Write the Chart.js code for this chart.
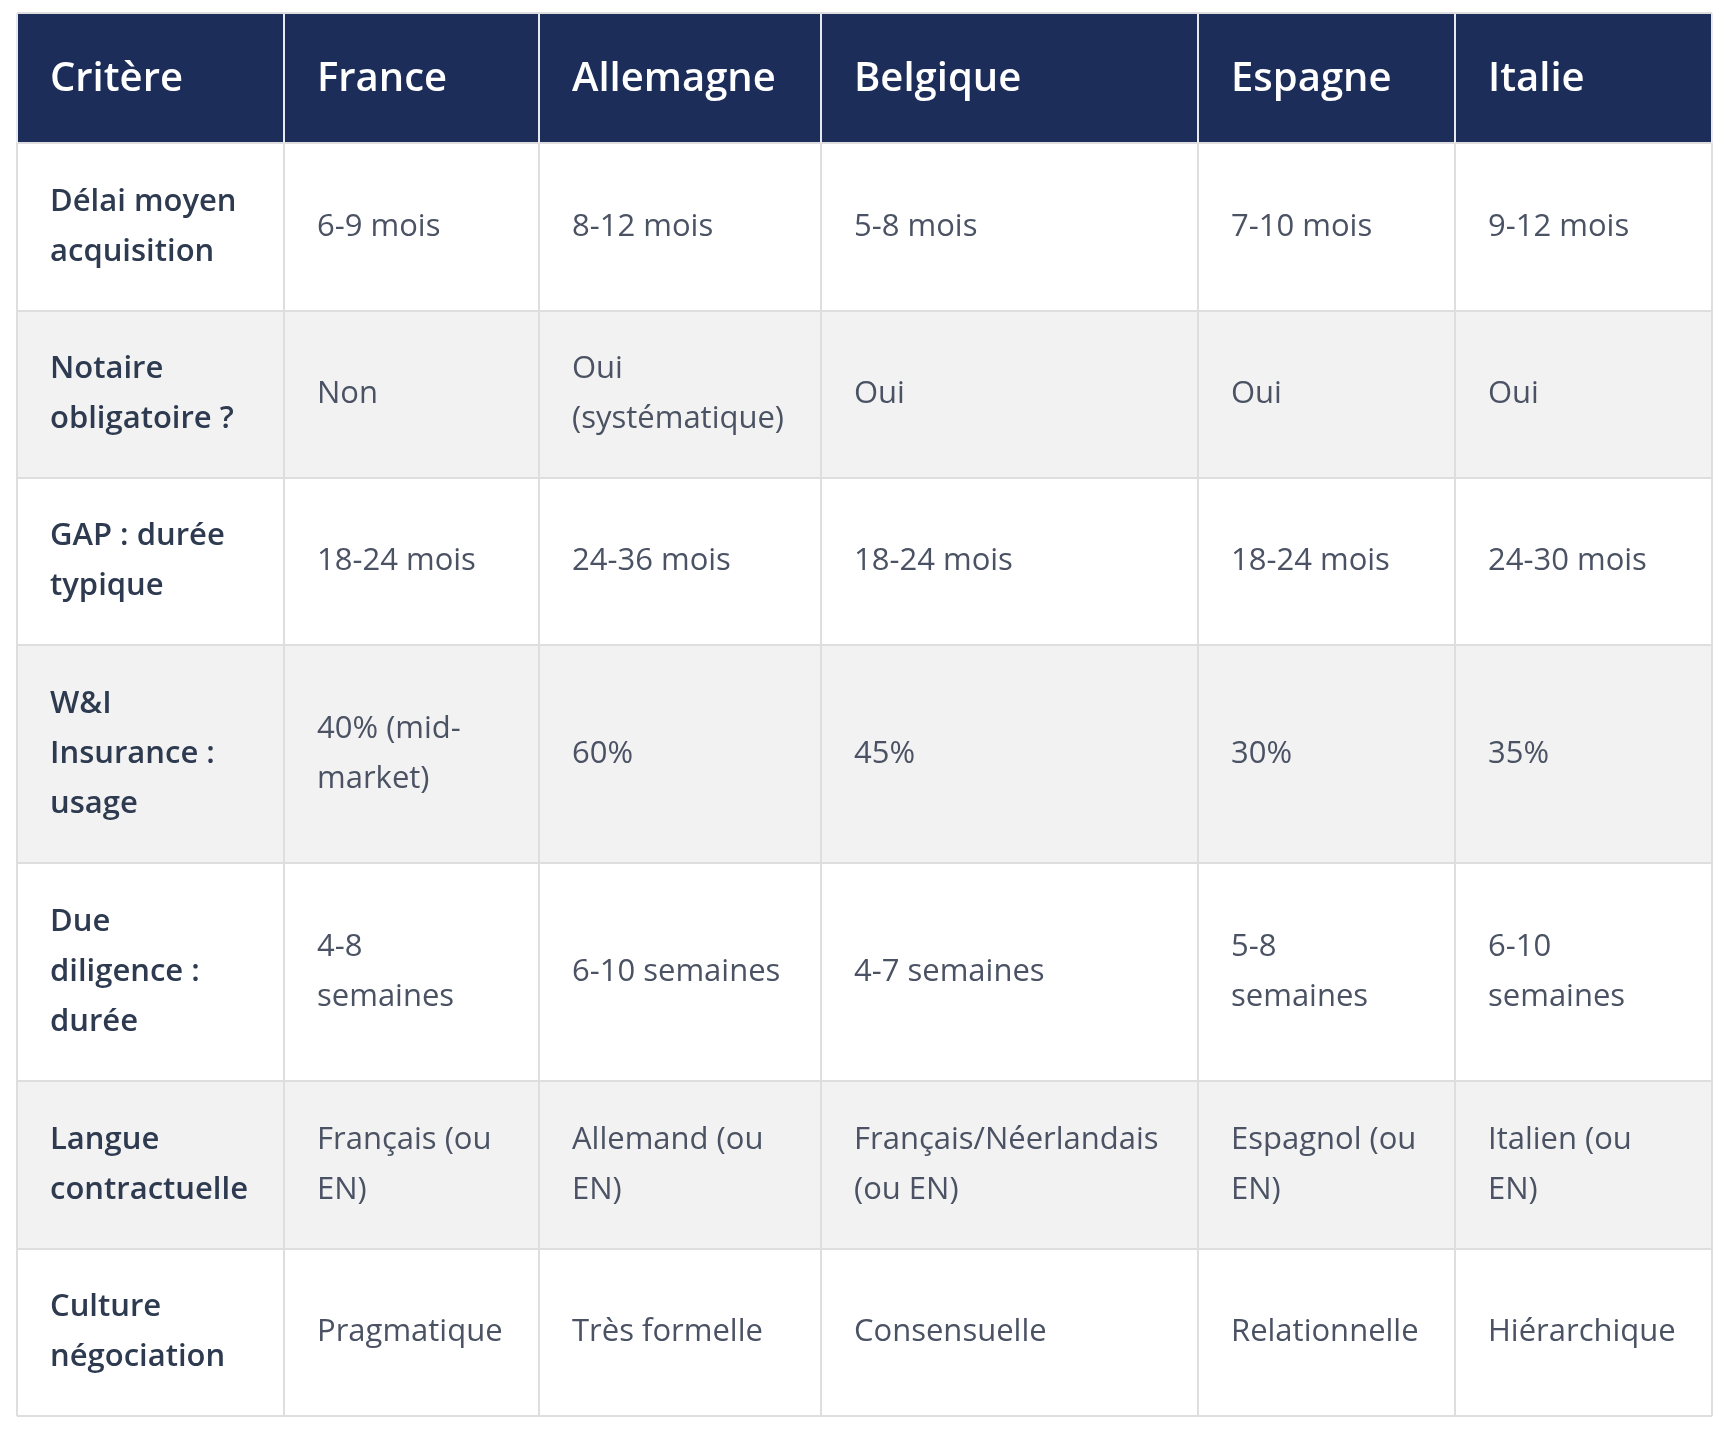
<!DOCTYPE html>
<html>
<head>
<meta charset="utf-8">
<script src="https://cdn.jsdelivr.net/npm/chart.js@4.4.0/dist/chart.umd.min.js"></script>
<style>
  body { margin: 0; background: #fff; }
</style>
</head>
<body>
<canvas id="table" width="1730" height="1432"></canvas>
<script>
// Table content
const headers = ['Critère', 'France', 'Allemagne', 'Belgique', 'Espagne', 'Italie'];
const criteria = ['Délai moyen\nacquisition', 'Notaire\nobligatoire ?', 'GAP : durée\ntypique', 'W&I\nInsurance :\nusage', 'Due\ndiligence :\ndurée', 'Langue\ncontractuelle', 'Culture\nnégociation'];
const france = ['6-9 mois', 'Non', '18-24 mois', '40% (mid-\nmarket)', '4-8\nsemaines', 'Français (ou\nEN)', 'Pragmatique'];
const allemagne = ['8-12 mois', 'Oui\n(systématique)', '24-36 mois', '60%', '6-10 semaines', 'Allemand (ou\nEN)', 'Très formelle'];
const belgique = ['5-8 mois', 'Oui', '18-24 mois', '45%', '4-7 semaines', 'Français/Néerlandais\n(ou EN)', 'Consensuelle'];
const espagne = ['7-10 mois', 'Oui', '18-24 mois', '30%', '5-8\nsemaines', 'Espagnol (ou\nEN)', 'Relationnelle'];
const italie = ['9-12 mois', 'Oui', '24-30 mois', '35%', '6-10\nsemaines', 'Italien (ou\nEN)', 'Hiérarchique'];

const columns = [criteria, france, allemagne, belgique, espagne, italie];

// Layout (px)
const colWidths = [267, 255, 282, 377, 257, 257];
const headerHeight = 130;
const rowHeights = [168, 167, 167, 218, 218, 168, 167];

const colEdges = [0];
colWidths.forEach(w => colEdges.push(colEdges[colEdges.length - 1] + w));
const rowEdges = [0, headerHeight];
rowHeights.forEach(h => rowEdges.push(rowEdges[rowEdges.length - 1] + h));

const tablePlugin = {
  id: 'tablePlugin',
  afterDraw(chart) {
    const { ctx, scales: { x, y } } = chart;
    const px = v => x.getPixelForValue(v);
    const py = v => y.getPixelForValue(v);
    ctx.save();

    // backgrounds
    ctx.fillStyle = '#1b2d58';
    ctx.fillRect(px(0), py(0), px(colEdges[6]) - px(0), py(headerHeight) - py(0));
    for (let r = 0; r < rowHeights.length; r++) {
      ctx.fillStyle = r % 2 === 1 ? '#f2f2f2' : '#ffffff';
      ctx.fillRect(px(0), py(rowEdges[r + 1]), px(colEdges[6]) - px(0), py(rowEdges[r + 2]) - py(rowEdges[r + 1]));
    }

    // grid lines
    ctx.lineWidth = 2;
    for (let r = 1; r < rowEdges.length; r++) {
      ctx.strokeStyle = '#dedede';
      ctx.beginPath();
      ctx.moveTo(px(0), py(rowEdges[r]));
      ctx.lineTo(px(colEdges[6]), py(rowEdges[r]));
      ctx.stroke();
    }
    colEdges.forEach(c => {
      ctx.strokeStyle = '#dedede';
      ctx.beginPath();
      ctx.moveTo(px(c), py(headerHeight));
      ctx.lineTo(px(c), py(rowEdges[rowEdges.length - 1]));
      ctx.stroke();
      ctx.strokeStyle = '#e6e9f0';
      ctx.beginPath();
      ctx.moveTo(px(c), py(0));
      ctx.lineTo(px(c), py(headerHeight));
      ctx.stroke();
    });
    ctx.strokeStyle = '#dedede';
    ctx.beginPath();
    ctx.moveTo(px(0), py(0));
    ctx.lineTo(px(colEdges[6]), py(0));
    ctx.stroke();

    // header text
    ctx.textBaseline = 'middle';
    ctx.textAlign = 'left';
    ctx.fillStyle = '#ffffff';
    ctx.font = '600 40px "Open Sans", sans-serif';
    headers.forEach((h, c) => {
      ctx.fillText(h, px(colEdges[c]) + 33, py(headerHeight / 2) + 2);
    });

    // body text
    const lineH = 50;
    columns.forEach((col, c) => {
      ctx.fillStyle = c === 0 ? '#2d3a4f' : '#4a5263';
      ctx.font = (c === 0 ? '600 ' : '400 ') + '31px "Open Sans", sans-serif';
      col.forEach((txt, r) => {
        const lines = txt.split('\n');
        const mid = (py(rowEdges[r + 1]) + py(rowEdges[r + 2])) / 2;
        const top = mid - (lines.length - 1) * lineH / 2;
        lines.forEach((ln, i) => ctx.fillText(ln, px(colEdges[c]) + 33, top + i * lineH));
      });
    });
    ctx.restore();
  }
};

new Chart(document.getElementById('table'), {
  type: 'scatter',
  data: { datasets: [{ data: [] }] },
  options: {
    responsive: false,
    devicePixelRatio: 1,
    animation: false,
    layout: { padding: { left: 17, top: 13, right: 18, bottom: 16 } },
    plugins: { legend: { display: false }, tooltip: { enabled: false } },
    scales: {
      x: { type: 'linear', display: false, min: 0, max: colEdges[6] },
      y: { type: 'linear', display: false, min: 0, max: rowEdges[rowEdges.length - 1], reverse: true }
    }
  },
  plugins: [tablePlugin]
});
</script>
</body>
</html>
